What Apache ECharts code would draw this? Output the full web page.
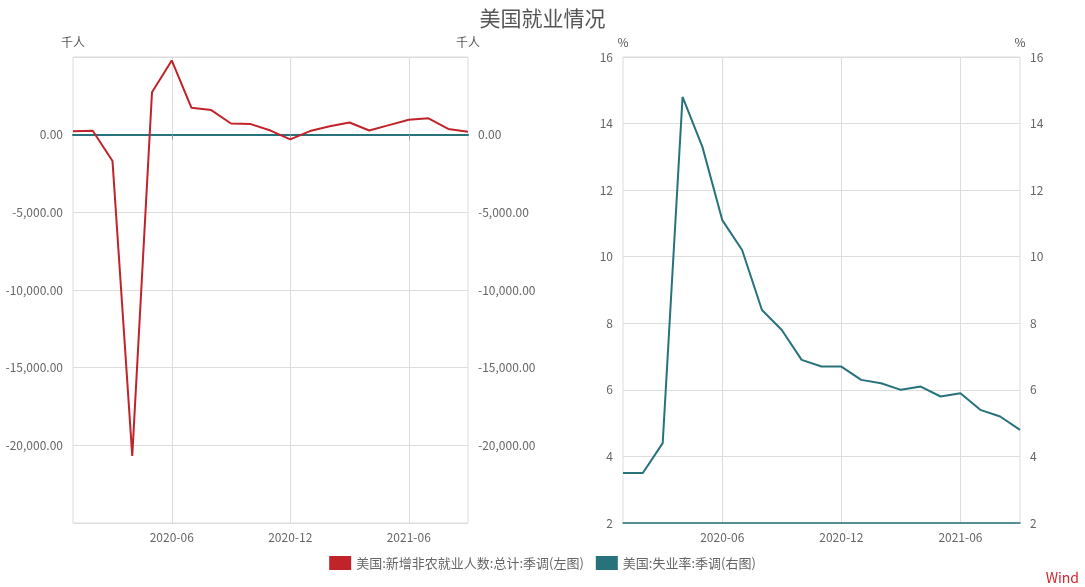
<!DOCTYPE html>
<html><head><meta charset="utf-8">
<script src="https://cdn.jsdelivr.net/npm/echarts@6/dist/echarts.min.js"></script>
<style>html,body{margin:0;padding:0;background:#fff}#c{width:1085px;height:587px}</style>
</head><body><div id="c"></div>
<script>
const categories = ['2020-01','2020-02','2020-03','2020-04','2020-05','2020-06','2020-07','2020-08','2020-09','2020-10','2020-11','2020-12','2021-01','2021-02','2021-03','2021-04','2021-05','2021-06','2021-07','2021-08','2021-09'];
const payrolls = [214, 251, -1700, -20679, 2725, 4781, 1726, 1583, 716, 680, 264, -306, 233, 536, 785, 269, 614, 962, 1053, 366, 194];
const unemployment = [3.5, 3.5, 4.4, 14.8, 13.3, 11.1, 10.2, 8.4, 7.8, 6.9, 6.7, 6.7, 6.3, 6.2, 6.0, 6.1, 5.8, 5.9, 5.4, 5.2, 4.8];
const nameLeft = '美国:新增非农就业人数:总计:季调(左图)';
const nameRight = '美国:失业率:季调(右图)';
const RED = '#C1232B', TEAL = '#27727B';
const FONT = '"Noto Sans CJK SC", "Noto Sans", sans-serif';
const tickIdx = (i) => i % 6 === 5;
const chart = echarts.init(document.getElementById('c'));
const fmt = v => v.toLocaleString('en-US', {minimumFractionDigits: 2, maximumFractionDigits: 2});
const labelStyle = {color: '#666', fontSize: 12, fontFamily: FONT};
function yAx(gi, pos, min, max, interval, name, formatter, hideEnds) {
  return {
    type: 'value', gridIndex: gi, position: pos, min, max, interval,
    name, nameGap: 9, nameTextStyle: {color: '#555', fontSize: 12, fontFamily: FONT, align: 'center'},
    axisLine: {show: false}, axisTick: {show: false},
    axisLabel: Object.assign({}, labelStyle, {formatter, showMinLabel: !hideEnds, showMaxLabel: !hideEnds, margin: 10}),
    splitLine: {show: pos === 'left', lineStyle: {color: '#ddd'}}
  };
}
chart.setOption({
  textStyle: {fontFamily: FONT},
  title: {text: '美国就业情况', left: 'center', top: 3, textStyle: {color: '#555', fontSize: 21, fontWeight: 'normal', fontFamily: FONT}},
  legend: {
    bottom: 12, left: 'center', itemWidth: 22, itemHeight: 14, itemGap: 12,
    textStyle: Object.assign({}, labelStyle, {fontSize: 13}), icon: 'rect',
    data: [nameLeft, nameRight]
  },
  grid: [
    {left: 73, right: 617, top: 57, bottom: 64, show: true, borderColor: '#ddd', borderWidth: 1},
    {left: 623, right: 65, top: 57, bottom: 64, show: true, borderColor: '#ddd', borderWidth: 1}
  ],
  xAxis: [
    {type: 'category', gridIndex: 0, data: categories, boundaryGap: false, position: 'bottom',
     axisLine: {show: false, onZero: false}, axisTick: {show: false},
     axisLabel: Object.assign({}, labelStyle, {interval: tickIdx, margin: 8}),
     splitLine: {show: true, interval: tickIdx, lineStyle: {color: '#ddd'}}},
    {type: 'category', gridIndex: 0, data: categories, boundaryGap: false, position: 'bottom',
     axisLine: {show: true, onZero: true, lineStyle: {color: TEAL, width: 2}},
     axisTick: {show: true, interval: tickIdx, length: 5, lineStyle: {color: '#999'}},
     axisLabel: {show: false}, splitLine: {show: false}},
    {type: 'category', gridIndex: 1, data: categories, boundaryGap: false, position: 'bottom',
     axisLine: {show: true, onZero: false, lineStyle: {color: TEAL, width: 1.5}}, axisTick: {show: false},
     axisLabel: Object.assign({}, labelStyle, {interval: tickIdx, margin: 8}),
     splitLine: {show: true, interval: tickIdx, lineStyle: {color: '#ddd'}}}
  ],
  yAxis: [
    yAx(0, 'left', -25000, 5000, 5000, '千人', fmt, true),
    yAx(0, 'right', -25000, 5000, 5000, '千人', fmt, true),
    yAx(1, 'left', 2, 16, 2, '%', v => String(v), false),
    yAx(1, 'right', 2, 16, 2, '%', v => String(v), false)
  ],
  series: [
    {name: nameLeft, type: 'line', xAxisIndex: 0, yAxisIndex: 0, data: payrolls, symbol: 'none',
     lineStyle: {color: RED, width: 2}, itemStyle: {color: RED}},
    {name: nameRight, type: 'line', xAxisIndex: 2, yAxisIndex: 2, data: unemployment, symbol: 'none',
     lineStyle: {color: TEAL, width: 2}, itemStyle: {color: TEAL}}
  ],
  graphic: [{type: 'text', right: 6, bottom: 2, style: {text: 'Wind', fill: '#d3262e', fontSize: 14, fontFamily: FONT}}]
});
</script></body></html>
